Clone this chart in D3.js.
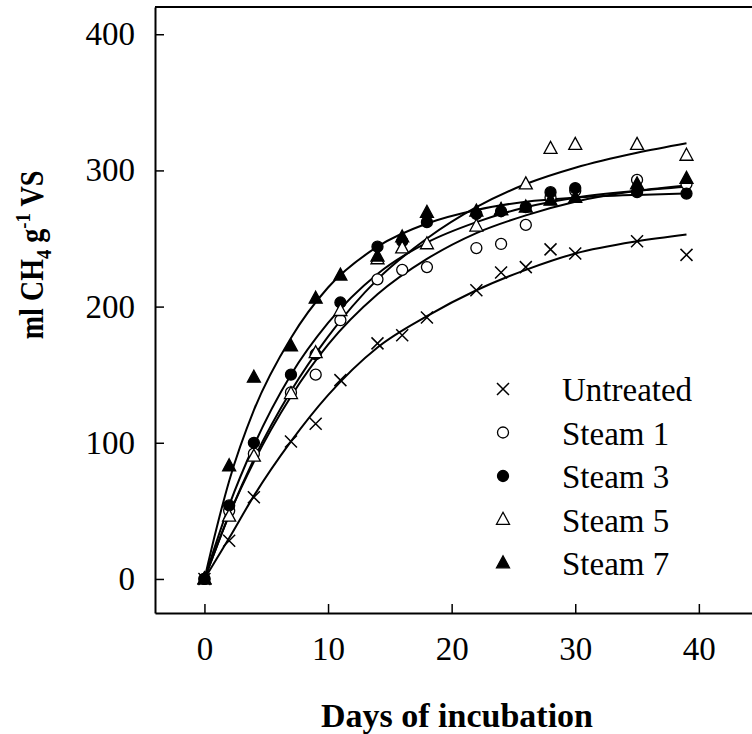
<!DOCTYPE html>
<html><head><meta charset="utf-8">
<script src="https://cdn.jsdelivr.net/npm/d3@7"></script>
<style>
html,body{margin:0;padding:0;background:#fff;}
svg{display:block;font-family:"Liberation Serif","Times New Roman",serif;}
</style></head>
<body><svg id="chart" width="752" height="734"></svg>
<script>
// ---- data ----
const days = [0, 2, 4, 7, 9, 11, 14, 16, 18, 22, 24, 26, 28, 30, 35, 39];
const untreated = [0, 28, 60, 101, 114, 146, 173, 179, 192, 212, 225, 229, 242, 239, 248, 238];
const steam1 = [0, 50, 92, 137, 150, 190, 220, 227, 229, 243, 246, 260, 280, 285, 293, 290];
const steam3 = [0, 54, 100, 150, 165, 203, 244, 248, 262, 268, 270, 273, 284, 287, 284, 283];
const steam5 = [0, 46, 90, 136, 166, 197, 235, 243, 246, 259, 271, 290, 316, 319, 319, 311];
const steam7 = [0, 83, 148, 171, 206, 223, 237, 251, 269, 270, 271, 273, 278, 280, 290, 294];

// fitted curves
const fitDays = [0, 1, 2, 4, 7, 10, 14, 18, 22, 26, 30, 35, 39];
const fitUntreated = [0, 15, 30, 61, 101, 135, 170, 193, 212, 227, 239, 248, 253];
const fitSteam1 = [0, 24, 47, 86, 134, 172, 209, 235, 254, 267, 277, 285, 289];
const fitSteam3 = [0, 28, 54, 98, 150, 188, 224, 247, 262, 273, 280, 285, 288];
const fitSteam5 = [0, 24, 47, 88, 138, 178, 220, 250, 273, 290, 302, 313, 320];
const fitSteam7 = [0, 38, 72, 124, 177, 214, 244, 261, 271, 277, 280, 282, 283];

const seriesNames = ["Untreated", "Steam 1", "Steam 3", "Steam 5", "Steam 7"];
const seriesSymbols = ["cross", "circleOpen", "circleFilled", "triOpen", "triFilled"];
const xTicks = [0, 10, 20, 30, 40];
const yTicks = [0, 100, 200, 300, 400];

const series = [untreated, steam1, steam3, steam5, steam7];
const fits = [fitUntreated, fitSteam1, fitSteam3, fitSteam5, fitSteam7];

// ---- layout ----
const FONT = "Liberation Serif";
const svg = d3.select("#chart");
const x = d3.scaleLinear().domain([-4, 44.3]).range([155, 752]);
const y = d3.scaleLinear().domain([-25, 420]).range([613, 7]);

// curves
const line = d3.line().x(d => x(d[0])).y(d => y(d[1])).curve(d3.curveMonotoneX);
fits.forEach(f => {
  svg.append("path")
    .attr("d", line(fitDays.map((dd, i) => [dd, f[i]])))
    .attr("fill", "none").attr("stroke", "#000").attr("stroke-width", 2);
});

function drawSymbol(g, type, cx, cy) {
  if (type === "cross") {
    const s = 6;
    g.append("path").attr("d", `M${cx - s},${cy - s}L${cx + s},${cy + s}M${cx - s},${cy + s}L${cx + s},${cy - s}`)
      .attr("stroke", "#000").attr("stroke-width", 1.5).attr("fill", "none");
  } else if (type === "circleOpen" || type === "circleFilled") {
    g.append("circle").attr("cx", cx).attr("cy", cy).attr("r", 5.5)
      .attr("fill", type === "circleFilled" ? "#000" : "#fff")
      .attr("stroke", "#000").attr("stroke-width", 1.3);
  } else {
    const w = 6.5, h = 12;
    g.append("path").attr("d", `M${cx},${cy - h * 0.6}L${cx + w},${cy + h * 0.4}L${cx - w},${cy + h * 0.4}Z`)
      .attr("fill", type === "triFilled" ? "#000" : "#fff")
      .attr("stroke", "#000").attr("stroke-width", 1.3);
  }
}

const gm = svg.append("g");
series.forEach((s, si) => {
  s.forEach((v, i) => drawSymbol(gm, seriesSymbols[si], x(days[i]), y(v)));
});

// axes frame
svg.append("line").attr("x1", 155).attr("x2", 752).attr("y1", 7).attr("y2", 7).attr("stroke", "#000").attr("stroke-width", 2);
const xAxis = d3.axisBottom(x).tickValues(xTicks).tickSizeInner(-9).tickSizeOuter(0).tickPadding(24);
const gx = svg.append("g").attr("transform", "translate(0,613)").call(xAxis);
gx.select(".domain").attr("stroke-width", 2);
gx.selectAll(".tick line").attr("stroke-width", 1.5);
gx.selectAll("text").attr("font-size", 33).attr("font-family", FONT).attr("fill", "#000");

const yAxis = d3.axisLeft(y).tickValues(yTicks).tickSizeInner(-9).tickSizeOuter(0).tickPadding(20);
const gy = svg.append("g").attr("transform", "translate(155,0)").call(yAxis);
gy.select(".domain").attr("stroke-width", 2);
gy.selectAll(".tick line").attr("stroke-width", 1.5);
gy.selectAll("text").attr("font-size", 33).attr("font-family", FONT).attr("fill", "#000");

// axis titles
svg.append("text").attr("x", 457).attr("y", 727).attr("text-anchor", "middle")
  .attr("font-family", FONT).attr("font-size", 34).attr("font-weight", "bold").text("Days of incubation");

const yt = svg.append("text").attr("transform", "translate(43,255) rotate(-90) scale(0.85,1)")
  .attr("text-anchor", "middle").attr("font-family", FONT).attr("font-size", 33).attr("font-weight", "bold");
yt.append("tspan").text("ml CH");
yt.append("tspan").attr("font-size", 22).attr("dy", 8).text("4");
yt.append("tspan").attr("dy", -8).text(" g");
yt.append("tspan").attr("font-size", 22).attr("dy", -13).text("-1");
yt.append("tspan").attr("dy", 13).text(" VS");

// legend
const lg = svg.append("g");
seriesNames.forEach((n, i) => {
  const ly = 389 + i * 43.5;
  drawSymbol(lg, seriesSymbols[i], 503, ly);
  lg.append("text").attr("x", 562).attr("y", ly + 12).attr("font-family", FONT).attr("font-size", 33).text(n);
});
</script></body></html>
